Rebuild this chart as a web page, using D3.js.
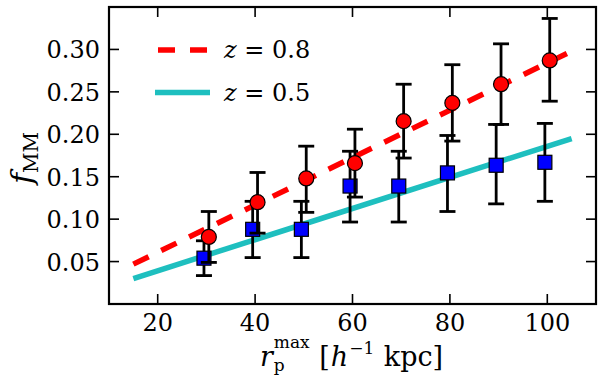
<!DOCTYPE html>
<html>
<head>
<meta charset="utf-8">
<script src="https://d3js.org/d3.v7.min.js"></script>
<style>
  body { margin: 0; background: #fff; }
  svg text { font-family: "DejaVu Serif", serif; fill: #000; }
</style>
</head>
<body>
<svg width="600" height="380"></svg>
<script>
// r_p^max bins
const rpMax = [30, 40, 50, 60, 70, 80, 90, 100];

// z = 0.8 (red circles)
const fz08 = [0.079, 0.120, 0.148, 0.166, 0.2155, 0.237, 0.259, 0.287];
const fz08Hi = [0.109, 0.155, 0.186, 0.206, 0.259, 0.282, 0.3066, 0.3365];
const fz08Lo = [0.049, 0.0835, 0.108, 0.126, 0.172, 0.192, 0.2116, 0.239];

// z = 0.5 (blue squares)
const fz05 = [0.054, 0.088, 0.088, 0.139, 0.139, 0.1545, 0.1635, 0.167];
const fz05Hi = [0.0745, 0.121, 0.121, 0.180, 0.180, 0.1986, 0.2116, 0.2128];
const fz05Lo = [0.0335, 0.0547, 0.0547, 0.0966, 0.0966, 0.109, 0.118, 0.121];

// straight-line fits
const fitX = [15, 105];
const fit08 = [0.047, 0.298];
const fit05 = [0.030, 0.195];

const xTicks = [20, 40, 60, 80, 100];
const yTicks = [0.05, 0.10, 0.15, 0.20, 0.25, 0.30];

var svg = d3.select("svg"),
    margin = {top: 7, right: 4, bottom: 76, left: 109},
    width = +svg.attr("width") - margin.left - margin.right,
    height = +svg.attr("height") - margin.top - margin.bottom,
    g = svg.append("g").attr("transform", "translate(" + margin.left + "," + margin.top + ")");

var x = d3.scaleLinear().domain([10, 110]).range([0, width]);
var y = d3.scaleLinear().domain([0, 0.35]).range([height, 0]);

var line = d3.line()
  .x(function(d) { return x(d[0]); })
  .y(function(d) { return y(d[1]); });

// fits
g.append("path")
  .datum(d3.zip(fitX, fit08))
  .attr("d", line)
  .attr("fill", "none")
  .attr("stroke", "#ff0000")
  .attr("stroke-width", 5.5)
  .attr("stroke-dasharray", "17,14");

g.append("path")
  .datum(d3.zip(fitX, fit05))
  .attr("d", line)
  .attr("fill", "none")
  .attr("stroke", "#1ebfbf")
  .attr("stroke-width", 5.5);

// error bars + markers
function drawSeries(vals, hi, lo, shift, color, shape) {
  var pts = rpMax.map(function(r, i) {
    return { x: r + shift, v: vals[i], hi: hi[i], lo: lo[i] };
  });
  var eb = g.append("g").attr("stroke", "#000").attr("stroke-width", 2.8);
  pts.forEach(function(d) {
    var px = x(d.x);
    eb.append("line").attr("x1", px).attr("x2", px).attr("y1", y(d.lo)).attr("y2", y(d.hi));
    eb.append("line").attr("x1", px - 8).attr("x2", px + 8).attr("y1", y(d.lo)).attr("y2", y(d.lo));
    eb.append("line").attr("x1", px - 8).attr("x2", px + 8).attr("y1", y(d.hi)).attr("y2", y(d.hi));
  });
  var m = g.append("g");
  if (shape === "circle") {
    m.selectAll("circle").data(pts).enter().append("circle")
      .attr("cx", function(d) { return x(d.x); })
      .attr("cy", function(d) { return y(d.v); })
      .attr("r", 7.5)
      .attr("fill", color)
      .attr("stroke", "#000")
      .attr("stroke-width", 1.2);
  } else {
    m.selectAll("rect").data(pts).enter().append("rect")
      .attr("x", function(d) { return x(d.x) - 7; })
      .attr("y", function(d) { return y(d.v) - 7; })
      .attr("width", 14)
      .attr("height", 14)
      .attr("fill", color)
      .attr("stroke", "#000")
      .attr("stroke-width", 1.2);
  }
}

drawSeries(fz05, fz05Hi, fz05Lo, -0.5, "#0000ff", "square");
drawSeries(fz08, fz08Hi, fz08Lo, 0.5, "#ff0000", "circle");

// frame and inward ticks on all sides
g.append("rect")
  .attr("width", width).attr("height", height)
  .attr("fill", "none").attr("stroke", "#000").attr("stroke-width", 2.2);

var tk = g.append("g").attr("stroke", "#000").attr("stroke-width", 1.6);
xTicks.forEach(function(t) {
  tk.append("line").attr("x1", x(t)).attr("x2", x(t)).attr("y1", height).attr("y2", height - 10);
  tk.append("line").attr("x1", x(t)).attr("x2", x(t)).attr("y1", 0).attr("y2", 10);
});
yTicks.forEach(function(t) {
  tk.append("line").attr("x1", 0).attr("x2", 10).attr("y1", y(t)).attr("y2", y(t));
  tk.append("line").attr("x1", width).attr("x2", width - 10).attr("y1", y(t)).attr("y2", y(t));
});

g.selectAll(".xl").data(xTicks).enter().append("text")
  .attr("x", function(d) { return x(d); })
  .attr("y", height + 27)
  .attr("text-anchor", "middle")
  .style("font-size", "24px")
  .text(function(d) { return d; });

g.selectAll(".yl").data(yTicks).enter().append("text")
  .attr("x", -9)
  .attr("y", function(d) { return y(d) + 9; })
  .attr("text-anchor", "end")
  .style("font-size", "24px")
  .text(function(d) { return d.toFixed(2); });

// legend
var leg = g.append("g");
leg.append("line")
  .attr("x1", 158 - margin.left).attr("x2", 207 - margin.left)
  .attr("y1", 50 - margin.top).attr("y2", 50 - margin.top)
  .attr("stroke", "#ff0000").attr("stroke-width", 5.5).attr("stroke-dasharray", "17,15");
leg.append("line")
  .attr("x1", 155 - margin.left).attr("x2", 210 - margin.left)
  .attr("y1", 92.5 - margin.top).attr("y2", 92.5 - margin.top)
  .attr("stroke", "#1ebfbf").attr("stroke-width", 5.5);

[["0.8", 50], ["0.5", 92.5]].forEach(function(l) {
  var t = leg.append("text")
    .attr("x", 224 - margin.left)
    .attr("y", l[1] - margin.top + 8)
    .style("font-size", "24px");
  t.append("tspan").style("font-style", "italic").text("z");
  t.append("tspan").text("\u00a0=\u00a0" + l[0]);
});

// axis labels
var yl = svg.append("text")
  .attr("transform", "translate(32,158) rotate(-90)")
  .attr("text-anchor", "middle")
  .style("font-size", "30px");
yl.append("tspan").style("font-style", "italic").text("f");
yl.append("tspan").attr("dy", 6).style("font-size", "20px").text("MM");

// x label built piece by piece so sub/superscripts stack
var pieces = [
  {t: "r", size: 27, italic: true, dy: 0},
  {t: "p", size: 17, dy: 5, stackWith: "max"},
  {t: "\u00a0[", size: 27, dy: 0},
  {t: "h", size: 27, italic: true, dy: 0},
  {t: "−1", size: 17, dy: -12},
  {t: "\u00a0kpc]", size: 27, dy: 0}
];
var xl = svg.append("g");
var cx = 0;
pieces.forEach(function(p) {
  var el = xl.append("text")
    .attr("x", cx).attr("y", p.dy)
    .style("font-size", p.size + "px")
    .style("font-style", p.italic ? "italic" : "normal")
    .text(p.t);
  var w = el.node().getComputedTextLength();
  if (p.stackWith) {
    var s = xl.append("text")
      .attr("x", cx).attr("y", -18)
      .style("font-size", p.size + "px")
      .text(p.stackWith);
    w = Math.max(w, s.node().getComputedTextLength());
  }
  cx += w + 1;
});
xl.attr("transform", "translate(" + (352 - cx / 2) + ",366)");
</script>
</body>
</html>
